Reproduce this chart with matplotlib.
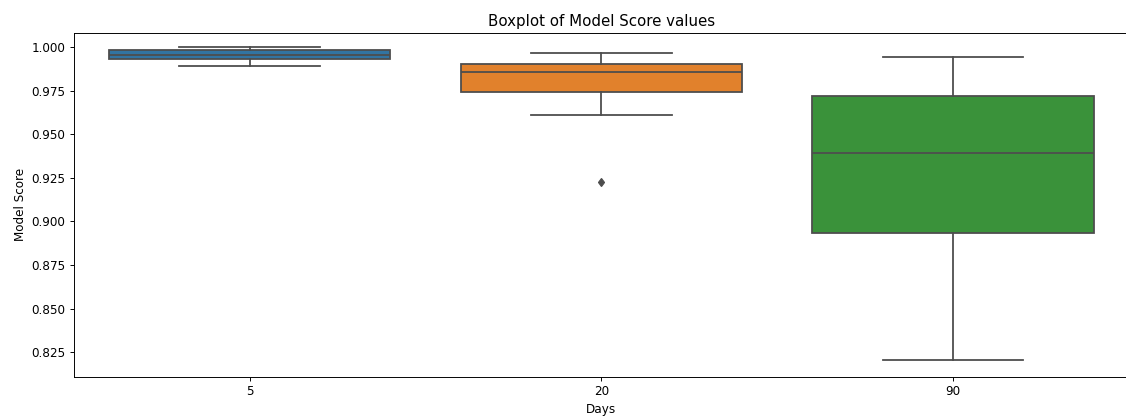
import matplotlib
matplotlib.use("Agg")
import matplotlib.pyplot as plt

# Box statistics
days = ["5", "20", "90"]
whisker_low = [0.9893, 0.9612, 0.8205]
q1 = [0.9930, 0.9740, 0.8931]
median = [0.9952, 0.9857, 0.9395]
q3 = [0.9983, 0.9900, 0.9719]
whisker_high = [0.9998, 0.9966, 0.9944]
outliers = [[], [0.9228], []]

colors = ["#3274a1", "#e1812c", "#3a923a"]
line_color = "#4d4d4d"

stats = []
for i, d in enumerate(days):
    stats.append({
        "label": d,
        "whislo": whisker_low[i],
        "q1": q1[i],
        "med": median[i],
        "q3": q3[i],
        "whishi": whisker_high[i],
        "fliers": outliers[i],
    })

DPI = 86
fig, ax = plt.subplots(figsize=(1126 / DPI, 419 / DPI), dpi=DPI)
# the reference is cropped just inside the right spine
fig.subplots_adjust(left=0.0657, right=1.0025, bottom=0.101, top=0.921)

bp = ax.bxp(
    stats,
    positions=range(len(days)),
    widths=0.8,
    patch_artist=True,
    boxprops=dict(edgecolor=line_color, linewidth=1.5),
    medianprops=dict(color=line_color, linewidth=1.5),
    whiskerprops=dict(color=line_color, linewidth=1.5),
    capprops=dict(color=line_color, linewidth=1.5),
    flierprops=dict(marker="d", markerfacecolor=line_color,
                    markeredgecolor=line_color, markersize=5),
    capwidths=0.4,
)
for patch, c in zip(bp["boxes"], colors):
    patch.set_facecolor(c)

ax.set_xlim(-0.5, 2.5)
ax.set_ylim(0.811, 1.008)
ax.set_xticks(range(len(days)))
ax.set_xticklabels(days)
ax.set_xlabel("Days")
ax.set_ylabel("Model Score")
ax.set_title("Boxplot of Model Score values", fontsize=12.6)

fig.savefig("out.png", dpi=DPI)
